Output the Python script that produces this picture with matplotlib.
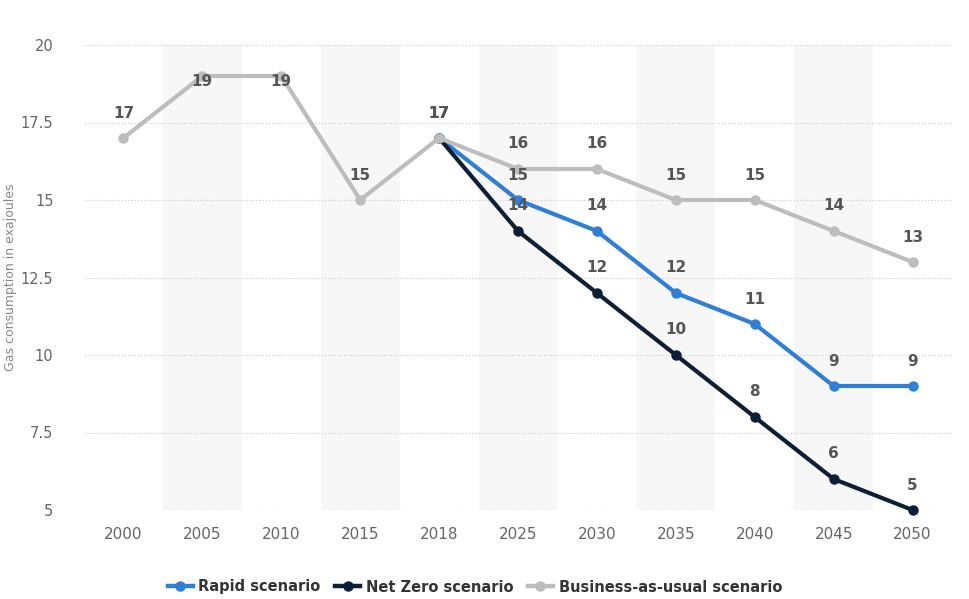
import numpy as np
import matplotlib.pyplot as plt
from matplotlib.lines import Line2D

# gas consumption outlook, exajoules
years = ["2000", "2005", "2010", "2015", "2018", "2025", "2030", "2035", "2040", "2045", "2050"]
business = [17, 19, 19, 15, 17, 16, 16, 15, 15, 14, 13]
rapid = [np.nan, np.nan, np.nan, np.nan, 17, 15, 14, 12, 11, 9, 9]
net_zero = [np.nan, np.nan, np.nan, np.nan, 17, 14, 12, 10, 8, 6, 5]

yticks = [5, 7.5, 10, 12.5, 15, 17.5, 20]
ytick_labels = ["5", "7.5", "10", "12.5", "15", "17.5", "20"]

series = [
    ("Rapid scenario", rapid, "#2f7ed8"),
    ("Net Zero scenario", net_zero, "#0b1f38"),
    ("Business-as-usual scenario", business, "#bdbdbd"),
]

plt.rcParams['font.family'] = ['DejaVu Sans']
fig = plt.figure(figsize=(9.69, 5.99), dpi=100)
ax = fig.add_axes([84 / 969, 1 - 510 / 599, (952 - 84) / 969, (510 - 45) / 599])

x = np.arange(len(years))
ax.set_xlim(-0.5, len(years) - 0.5)
ax.set_ylim(5, 20)

# alternating column bands
for i in range(1, len(years), 2):
    ax.axvspan(i - 0.5, i + 0.5, color="#f7f7f7", zorder=0, lw=0)

for yv in yticks:
    ax.axhline(yv, color="#d0d0d0", lw=0.9, ls=(0, (1, 1.5)), zorder=1)

for k, (name, vals, col) in enumerate(series):
    ax.plot(x, vals, color=col, lw=3.0, marker="o", ms=6.5, zorder=3 + k,
            solid_joinstyle="round", clip_on=False)
    for xi, v in zip(x, vals):
        if np.isnan(v):
            continue
        off = 18 if v < 19 else -4
        ax.annotate(f"{v:g}", (xi, v), xytext=(0, off), textcoords="offset points",
                    ha="center", va="center", fontsize=11, fontweight="bold",
                    color="#555555", zorder=10)

ax.set_xticks(x)
ax.set_xticklabels(years)
ax.set_yticks(yticks)
ax.set_yticklabels(ytick_labels)
ax.tick_params(axis="both", length=0, colors="#666666")
ax.tick_params(axis="x", pad=12, labelsize=11)
ax.tick_params(axis="y", pad=22, labelsize=10.5)
for s in ax.spines.values():
    s.set_visible(False)

ax.set_ylabel("Gas consumption in exajoules", fontsize=9, color="#888888", labelpad=10)
ax.yaxis.set_label_coords(-0.077, 0.5)

handles = [Line2D([0], [0], color=c, lw=3.2, marker="o", ms=6.5) for _, _, c in series]
leg = fig.legend(handles, [n for n, _, _ in series], loc="center", bbox_to_anchor=(0.49, 1 - 587 / 599),
                 ncol=3, frameon=False, handlelength=1.7, handletextpad=0.4, columnspacing=1.0,
                 prop={"weight": "bold", "size": 10.5})
for t in leg.get_texts():
    t.set_color("#333333")

fig.savefig("out.png", dpi=100)
